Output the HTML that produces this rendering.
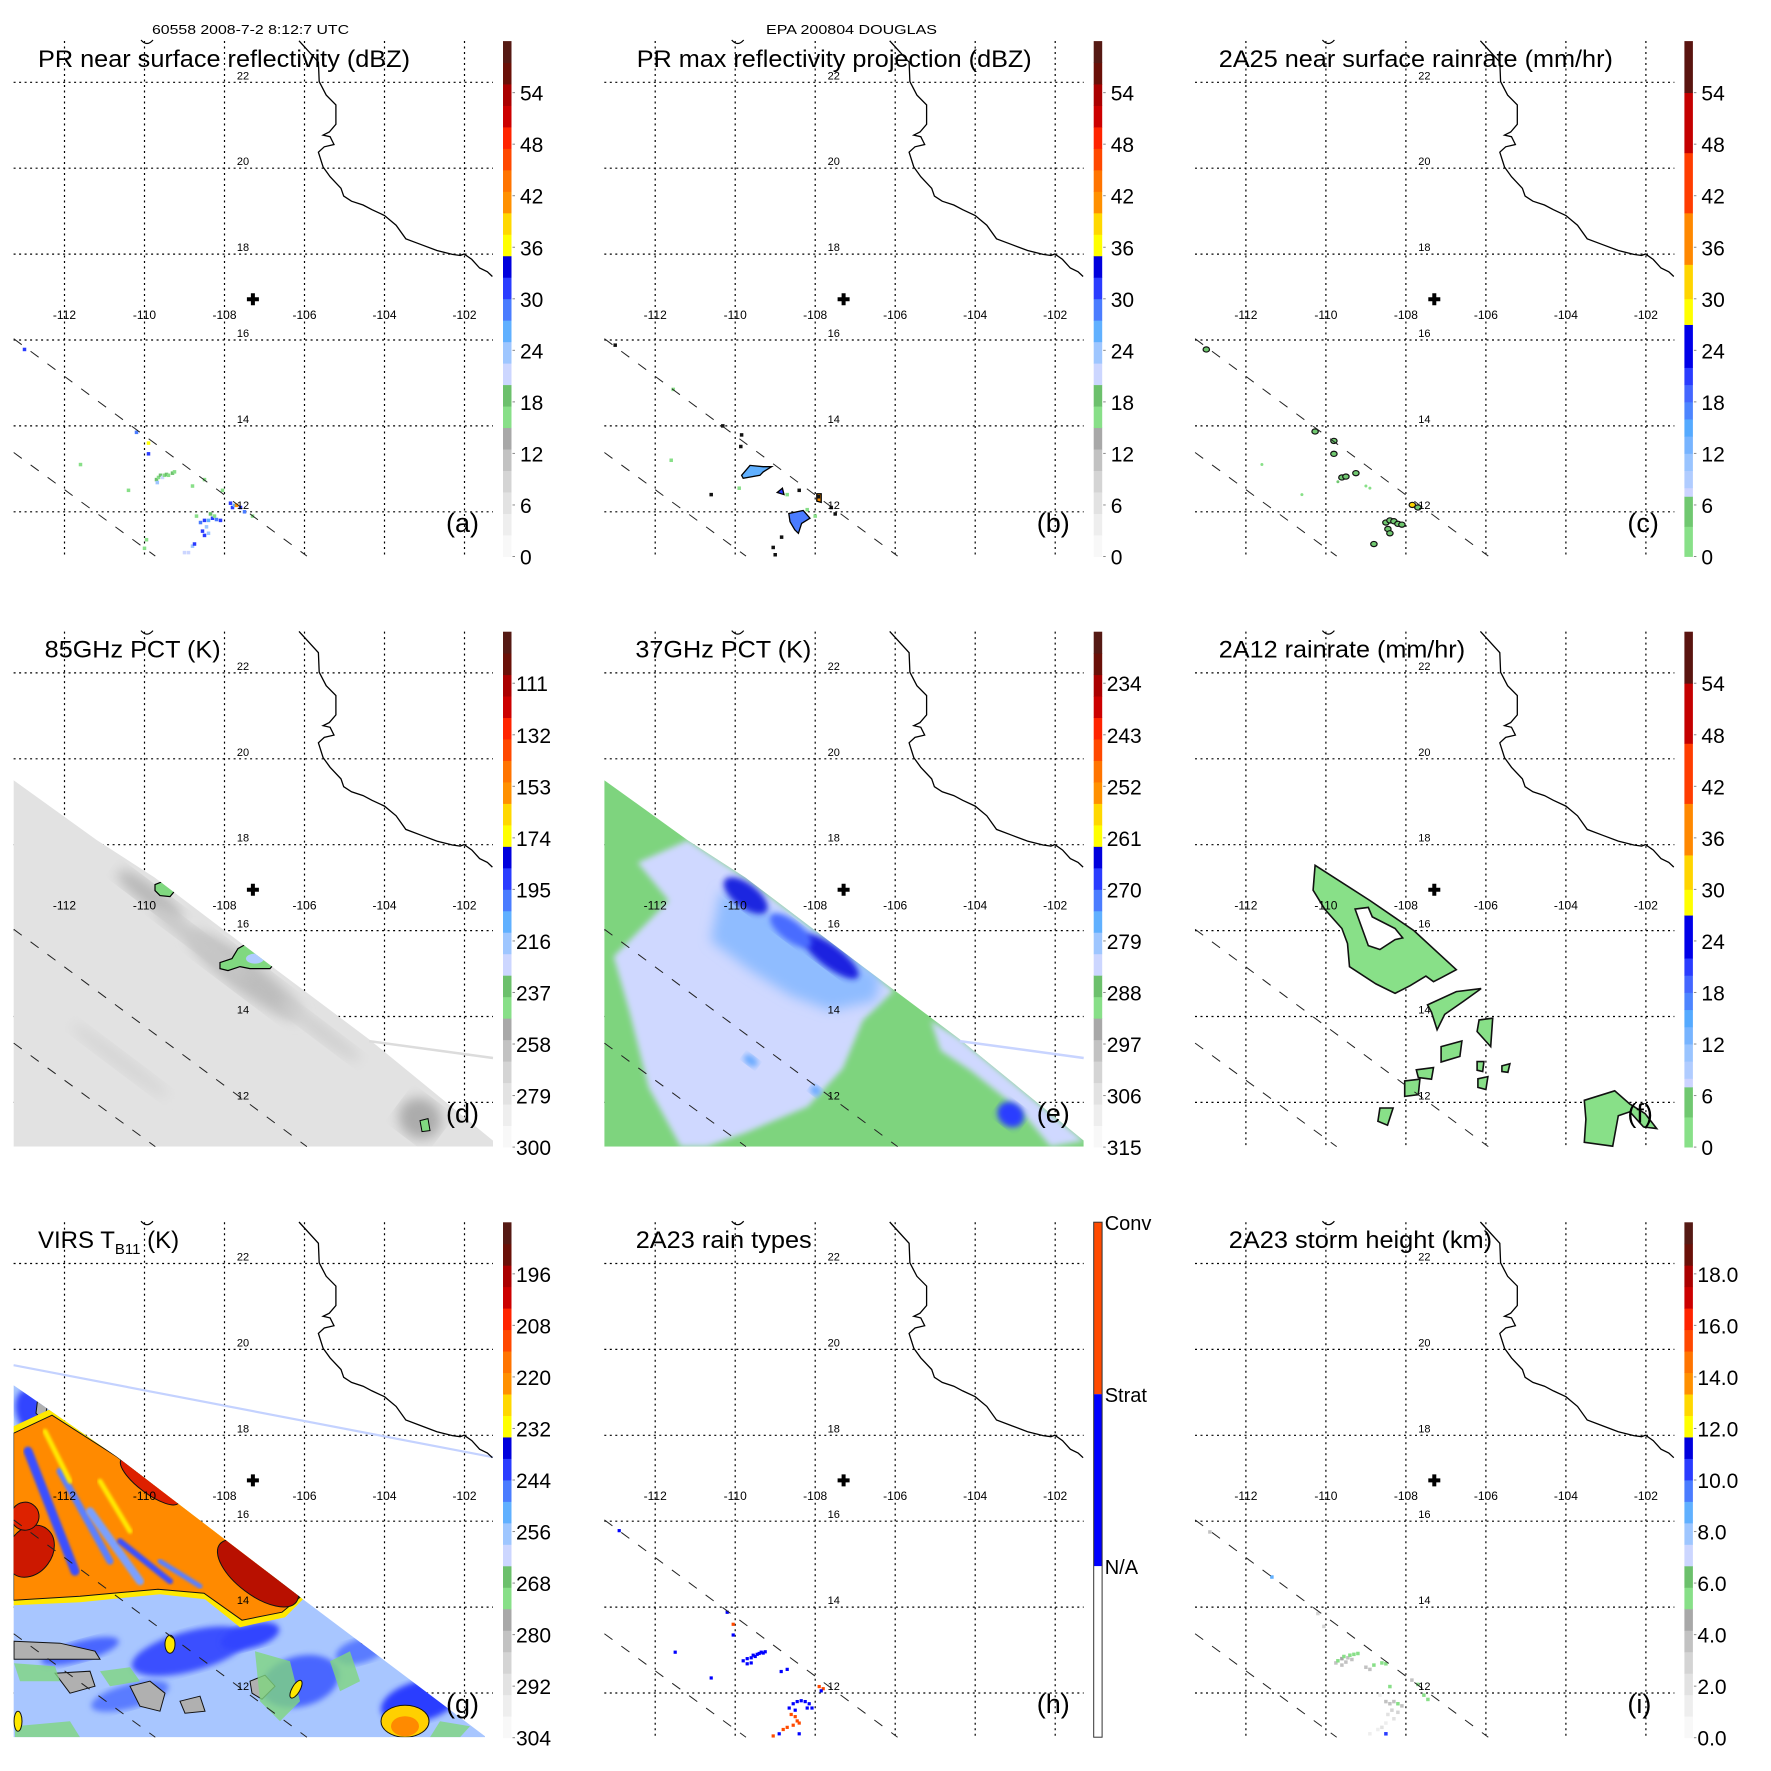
<!DOCTYPE html>
<html><head><meta charset="utf-8">
<style>
html,body{margin:0;padding:0;background:#fff;}
svg{display:block;font-family:"Liberation Sans",Arial,sans-serif;}
</style></head>
<body>
<svg id="fig" xmlns="http://www.w3.org/2000/svg" width="1771" height="1771" viewBox="0 0 1771 1771">
<defs>
<clipPath id="swathA"><polygon points="13.6,189.6 97,249.6 155,287.2 273.8,377.3 369,448.6 493,550 493,556 13.6,556"/></clipPath>
<clipPath id="swathG"><polygon points="13.6,204 116.5,275.3 303,418 485,555 485,556 13.6,556"/></clipPath>
<filter id="blur3"><feGaussianBlur stdDeviation="3"/></filter>
<filter id="blur6"><feGaussianBlur stdDeviation="6"/></filter>
<filter id="blur1"><feGaussianBlur stdDeviation="1.2"/></filter>
</defs>
<text x="152" y="34" font-size="13" textLength="197" lengthAdjust="spacingAndGlyphs">60558 2008-7-2 8:12:7 UTC</text>
<text x="766" y="34" font-size="13" textLength="171" lengthAdjust="spacingAndGlyphs">EPA 200804 DOUGLAS</text>
</svg>
<script>
// ---------- data ----------
const lonTicks = [-112, -110, -108, -106, -104, -102];
const latTicks = [22, 20, 18, 16, 14, 12];
const centerLon = -107.29, centerLat = 16.95;

const labelsDBZ = ["54","48","42","36","30","24","18","12","6","0"];
const labels85 = ["111","132","153","174","195","216","237","258","279","300"];
const labels37 = ["234","243","252","261","270","279","288","297","306","315"];
const labelsRR = ["54","48","42","36","30","24","18","12","6","0"];
const labelsVIRS = ["196","208","220","232","244","256","268","280","292","304"];
const labelsHt = ["18.0","16.0","14.0","12.0","10.0","8.0","6.0","4.0","2.0","0.0"];
const labelValues = [54,48,42,36,30,24,18,12,6,0];
const rainTypeLabels = ["Conv","Strat","N/A"];

const cmapA = [[0,2.5,"#f8f8f8"],[2.5,5,"#eeeeee"],[5,7.5,"#e2e2e2"],[7.5,10,"#d4d4d4"],[10,12.5,"#c2c2c2"],[12.5,15,"#a8a8a8"],
 [15,17.5,"#88df88"],[17.5,20,"#6cc06c"],[20,22.5,"#ccd6ff"],[22.5,25,"#9ec6ff"],[25,27.5,"#60b0ff"],[27.5,30,"#4a7cff"],
 [30,32.5,"#2a3cff"],[32.5,35,"#0000dd"],[35,37.5,"#ffff00"],[37.5,40,"#ffd800"],[40,42.5,"#ff9000"],[42.5,45,"#ff7400"],
 [45,47.5,"#ff4800"],[47.5,50,"#ff2400"],[50,52.5,"#cc0000"],[52.5,55,"#aa0000"],[55,57.5,"#6a1008"],[57.5,60,"#551a14"]];
const cmapB = [[0,3.5,"#88e088"],[3.5,7,"#70c870"],[7,8,"#ccd4ff"],[8,10,"#b0ccff"],[10,12,"#99c4ff"],[12,14,"#77b4ff"],
 [14,16,"#55aaff"],[16,18,"#4d85ff"],[18,20,"#4466ff"],[20,22,"#2a3cff"],[22,27,"#0000e8"],[27,30,"#ffff00"],
 [30,34,"#ffd500"],[34,40,"#ff8800"],[40,47,"#ff3d00"],[47,54,"#c40000"],[54,60,"#5a1410"]];

const rainA_lon = [-113.0,-110.2,-109.9,-109.9,-109.7,-109.65,-109.6,-109.55,-109.5,-109.45,-109.4,-109.3,-109.25,-109.68,-111.6,-110.4,-108.8,-108.5,-108.05,-107.85,-107.8,-107.75,-107.7,-107.6,-107.5,-108.6,-108.5,-108.4,-108.3,-108.2,-108.1,-108.45,-108.55,-108.5,-108.4,-108.25,-108.35,-108.8,-108.75,-109.0,-108.9,-108.7,-110.0,-109.95,-107.3];
const rainA_lat = [15.78,13.85,13.6,13.35,12.75,12.8,12.85,12.8,12.85,12.87,12.85,12.9,12.93,12.68,13.1,12.5,12.6,12.75,12.5,12.2,12.1,12.15,12.15,12.1,12.0,11.75,11.8,11.8,11.85,11.82,11.8,11.65,11.55,11.45,11.5,11.9,11.95,11.2,11.25,11.05,11.05,11.9,11.15,11.35,11.9];
const rainA_val = [30,28,36,30,18,17,18,22,17,18,17,18,17,24,17,17,17,17,17,30,32,26,40,30,28,28,30,26,30,28,31,24,30,32,24,17,18,24,30,22,22,17,17,17,17];

const rainB_lon = [-113.0,-110.31,-109.84,-109.86,-108.84,-109.05,-111.55,-111.6,-109.9,-108.7,-108.4,-107.92,-107.6,-107.5,-108.2,-108.0,-109.0,-110.6];
const rainB_lat = [15.88,14.0,13.79,13.52,11.41,11.17,14.85,13.2,12.55,12.4,12.5,12.35,12.1,11.95,12.05,11.9,11.0,12.4];
const rainB_val = [30,30,30,30,30,30,17,17,17,17,30,40,30,28,17,17,28,30];
const cellsB_lonlat = [
 [[-109.84,12.85],[-109.63,13.08],[-109.30,13.05],[-109.09,13.05],[-109.30,12.93],[-109.38,12.85],[-109.80,12.78]],
 [[-108.66,11.96],[-108.30,12.03],[-108.13,11.85],[-108.34,11.73],[-108.42,11.50],[-108.51,11.58],[-108.63,11.77]],
 [[-108.95,12.45],[-108.82,12.55],[-108.78,12.40]],
 [[-107.96,12.42],[-107.85,12.42],[-107.85,12.22],[-107.96,12.25]]];
const cellsB_val = [26, 28, 30, 42];

const rainC_lon = [-112.99,-110.27,-109.8,-109.8,-109.7,-109.6,-109.5,-109.25,-107.84,-107.7,-108.5,-108.4,-108.3,-108.2,-108.1,-108.45,-108.4,-108.8,-111.6,-110.6,-109.0,-108.9];
const rainC_lat = [15.78,13.87,13.65,13.35,12.7,12.8,12.82,12.9,12.16,12.1,11.75,11.8,11.78,11.72,11.7,11.6,11.5,11.25,13.1,12.4,12.6,12.55];
const rainC_val = [6,6,5,5,4,5,6,5,33,5,6,5,6,5,6,5,6,5,2,2,2,2];

const cellsF_lonlat = [
 [[-110.27,17.52],[-108.9,16.7],[-107.8,16.0],[-106.74,15.09],[-107.12,14.90],[-107.31,14.81],[-107.50,14.94],[-107.89,14.72],[-108.27,14.54],[-108.75,14.76],[-109.41,15.16],[-109.46,15.70],[-109.60,16.05],[-110.03,16.50],[-110.32,16.94]],
 [[-107.46,14.27],[-106.74,14.58],[-106.12,14.65],[-106.55,14.36],[-107.03,14.05],[-107.22,13.69],[-107.36,14.10]],
 [[-106.17,13.92],[-105.83,13.96],[-105.88,13.30],[-106.22,13.65]],
 [[-107.12,13.30],[-106.60,13.43],[-106.65,13.07],[-107.12,12.94]],
 [[-107.74,12.76],[-107.31,12.81],[-107.36,12.54],[-107.69,12.58]],
 [[-108.03,12.50],[-107.65,12.54],[-107.69,12.18],[-108.03,12.14]],
 [[-108.65,11.87],[-108.32,11.87],[-108.46,11.47],[-108.70,11.56]],
 [[-106.22,12.95],[-106.05,12.95],[-106.08,12.72],[-106.22,12.75]],
 [[-106.2,12.55],[-105.95,12.6],[-106.0,12.3],[-106.2,12.35]],
 [[-105.6,12.85],[-105.4,12.9],[-105.45,12.7],[-105.6,12.72]],
 [[-103.54,12.05],[-102.78,12.27],[-102.40,11.96],[-102.02,11.74],[-101.73,11.39],[-102.06,11.43],[-102.40,11.78],[-102.69,11.69],[-102.83,10.98],[-103.54,11.07],[-103.50,11.61]]];
const holesF_lonlat = [[[-109.27,16.50],[-108.94,16.54],[-108.84,16.32],[-108.27,16.05],[-108.08,15.83],[-108.27,15.79],[-108.65,15.56],[-108.94,15.65],[-109.13,16.14]]];
const cellsF_val = [3,3,3,3,3,3,3,3,3,3,3];

const rainH_lon = [-112.9,-109.8,-109.7,-109.6,-109.55,-109.5,-109.45,-109.4,-109.35,-109.3,-109.25,-109.7,-109.6,-110.2,-110.05,-108.55,-108.45,-108.35,-108.25,-108.15,-108.08,-108.5,-108.2,-107.9,-107.8,-107.85,-110.05,-108.6,-108.5,-108.45,-108.4,-108.55,-108.7,-108.8,-108.9,-109.05,-108.4,-108.65,-111.5,-110.6,-108.85,-108.7];
const rainH_lat = [15.78,12.75,12.8,12.82,12.88,12.85,12.9,12.92,12.95,12.93,12.96,12.68,12.7,13.88,13.6,11.75,11.8,11.82,11.8,11.75,11.65,11.6,11.65,12.15,12.1,12.05,13.35,11.5,11.45,11.35,11.3,11.25,11.2,11.15,11.05,11.0,11.05,11.65,12.95,12.35,12.5,12.55];
const rainH_val = [1,1,1,1,1,1,1,1,1,1,1,1,1,1,2,1,1,1,1,1,1,1,1,2,2,1,1,2,2,2,2,2,2,2,1,2,1,1,1,1,1,1];

const rainI_lon = [-112.9,-109.75,-109.7,-109.6,-109.55,-109.45,-109.4,-109.3,-109.2,-109.6,-109.5,-109.35,-109.0,-108.9,-108.8,-108.6,-108.5,-107.85,-107.7,-107.55,-107.45,-108.4,-108.5,-108.4,-108.3,-108.2,-108.1,-108.35,-108.2,-108.45,-108.3,-108.5,-108.6,-108.7,-108.9,-108.5,-110.2,-110.05,-108.65,-111.35];
const rainI_lat = [15.75,12.7,12.75,12.8,12.85,12.82,12.88,12.9,12.92,12.65,12.72,12.78,12.6,12.55,12.65,12.7,12.68,12.3,12.2,11.95,11.85,12.15,11.8,11.75,11.8,11.75,11.7,11.6,11.55,11.5,11.4,11.3,11.2,11.15,11.05,11.05,13.85,13.55,11.95,14.7];
const rainI_val = [4,4,5.5,4.5,5.5,4,5.5,5.5,5.5,3.5,4,3.5,4,3.5,5.5,5.5,5.5,4,5.5,5.5,5.5,5.5,3.5,4,3.5,5.5,3.5,3,2.5,2,2,1.5,2,1.5,1,10,3,3,1,9];

// ---------- geometry ----------
const colX = [0, 590.7, 1181.4];
const rowY = [0, 590.6, 1181.2];
const FL = 13.6, FR = 493, FT = 41, FB = 556;
function X(lon){ return 64.5 + (lon + 112) * 40; }
function Y(lat){ return 82.3 + (22 - lat) * 42.95; }
function CBY(v){ return 556.5 - v * 8.59; }
const coastPx = "299,40.8 318.4,62.1 319.2,81.6 326.2,95.1 335.9,104.9 335.9,124.3 329.3,132 323.1,135.1 330.1,136.7 334,144.5 324.3,146.8 318.4,152.2 323.1,167 330.1,176.7 341,188.3 343.7,196.1 351.5,201.2 363.1,205 372,209.7 384.5,215.5 396.1,225.2 405.8,238.8 421.4,244.7 436.9,250.5 452.4,254.4 460.2,255.5 464.1,254 471.8,259.4 479.6,268 487.4,271.8 492.4,276.5";
const swathLines = [[[-113.27,16.03],[-105.94,10.97]],[[-113.27,13.38],[-109.73,10.97]]];

const NS = "http://www.w3.org/2000/svg";
const svg = document.getElementById("fig");
function mk(tag, attrs, parent){
  const el = document.createElementNS(NS, tag);
  for (const k in attrs) el.setAttribute(k, attrs[k]);
  parent.appendChild(el);
  return el;
}
function colorOf(cmap, v){
  for (const c of cmap) if (v >= c[0] && v < c[1]) return c[2];
  return cmap[cmap.length-1][2];
}
function polyPts(arr){ return arr.map(p => X(p[0]).toFixed(1)+","+Y(p[1]).toFixed(1)).join(" "); }

function drawBackground(g){
  for (const lon of lonTicks){
    const l = mk("line",{x1:X(lon),x2:X(lon),y1:FT,y2:FB,stroke:"#000","stroke-width":1.2,"stroke-dasharray":"2,3.5"},g);
    
    
  }
  for (const lat of latTicks){
    const l = mk("line",{x1:FL,x2:FR,y1:Y(lat),y2:Y(lat),stroke:"#000","stroke-width":1.2,"stroke-dasharray":"2,3.5"},g);
    
    
  }
}
function drawOverlay(g, letter){
  for (const s of swathLines){
    const l = mk("line",{x1:X(s[0][0]),y1:Y(s[0][1]),x2:X(s[1][0]),y2:Y(s[1][1]),stroke:"#222","stroke-width":1,"stroke-dasharray":"10,11"},g);
    
    
  }
  const c = mk("polyline",{points:coastPx,fill:"none",stroke:"#000","stroke-width":1.3},g);
  
  
  for (const lat of latTicks){
    const t = mk("text",{x:243,y:Y(lat)-3,"font-size":11,"text-anchor":"middle"},g);
    
    
    t.textContent = String(lat);
  }
  for (const lon of lonTicks){
    const t = mk("text",{x:X(lon),y:319,"font-size":12,"text-anchor":"middle"},g);
    
    
    t.textContent = String(lon);
  }
  const cx = X(centerLon), cy = Y(centerLat);
  const cr = mk("path",{d:`M${cx-6},${cy} H${cx+6} M${cx},${cy-6} V${cy+6}`,stroke:"#000","stroke-width":4},g);
  
  
  const br = mk("path",{d:"M141,40 Q147,47 153,40",fill:"none",stroke:"#000","stroke-width":1.2},g);
  
  
  const lt = mk("text",{x:446,y:532,"font-size":27},g);
  
  
  lt.textContent = "("+letter+")";
}
function drawTitle(g, txt, x0, x1){
  const t = mk("text",{x:x0,y:67,"font-size":24,textLength:x1-x0,lengthAdjust:"spacingAndGlyphs"},g);
  
  
  t.textContent = txt;
  return t;
}
function drawColorbar(g, cmap, labels){
  for (const c of cmap){
    const r = mk("rect",{x:503,y:CBY(c[1]),width:8.5,height:CBY(c[0])-CBY(c[1])+0.4,fill:c[2]},g);
    
    
  }
  labels.forEach((lab,i)=>{
    const y = CBY(labelValues[i]);
    const tk = mk("line",{x1:512.5,x2:515,y1:y,y2:y,stroke:"#888","stroke-width":1},g);
    
    
    const t = mk("text",{x:lab.length>=3?516:520,y:y+8,"font-size":21},g);
    
    
    t.textContent = lab;
  });
}
function drawPoints(g, lons, lats, vals, colorFn, size){
  for (let i=0;i<lons.length;i++){
    const r = mk("rect",{x:X(lons[i])-size/2,y:Y(lats[i])-size/2,width:size,height:size,fill:colorFn(vals[i])},g);
    
    
  }
}
function panel(col,row,name){
  const g = mk("g",{transform:`translate(${colX[col]},${rowY[row]})`},svg);
  
  
  return g;
}

// (a)
{
  const g = panel(0,0,'panel-pr-near-surface-reflectivity');
  drawBackground(g);
  drawPoints(g, rainA_lon, rainA_lat, rainA_val, v=>colorOf(cmapA,v), 3.5);
  drawOverlay(g,"a");
  drawTitle(g,"PR near surface reflectivity (dBZ)",38,410);
  drawColorbar(g,cmapA,labelsDBZ);
}
// (b)
{
  const g = panel(1,0,'panel-pr-max-reflectivity');
  drawBackground(g);
  cellsB_lonlat.forEach((c,i)=>{
    const p = mk("polygon",{points:polyPts(c),fill:colorOf(cmapA,cellsB_val[i]),stroke:"#000","stroke-width":1.3},g);
    
    
  });
  drawPoints(g, rainB_lon, rainB_lat, rainB_val, v=> v>=25 ? "#111" : colorOf(cmapA,v), 3.5);
  drawOverlay(g,"b");
  drawTitle(g,"PR max reflectivity projection (dBZ)",46,441);
  drawColorbar(g,cmapA,labelsDBZ);
}
// (c)
{
  const g = panel(2,0,'panel-2a25-rainrate');
  drawBackground(g);
  for (let i=0;i<rainC_lon.length;i++){
    const big = rainC_val[i] >= 5;
    const e = mk("ellipse",{cx:X(rainC_lon[i]),cy:Y(rainC_lat[i]),rx:big?3.2:1.5,ry:big?2.6:1.5,fill:colorOf(cmapB,rainC_val[i]),stroke:big?"#111":"none","stroke-width":1.2},g);
    
    
  }
  drawOverlay(g,"c");
  drawTitle(g,"2A25 near surface rainrate (mm/hr)",37.4,431.5);
  drawColorbar(g,cmapB,labelsRR);
}
// (d)
{
  const g = panel(0,1,'panel-85ghz-pct');
  drawBackground(g);
  const f = mk("g",{"clip-path":"url(#swathA)"},g);
  
  
  mk("rect",{x:13.6,y:180,width:480,height:380,fill:"#e2e2e2"},f);
  const shade = [[150,305,40,10,"#b8b8b8"],[245,385,70,16,"#bdbdbd"],[200,352,60,9,"#c8c8c8"],[420,528,22,20,"#acacac"],[320,440,50,8,"#d0d0d0"],[120,470,60,8,"#d6d6d6"]];
  for (const s of shade){
    const e = mk("ellipse",{cx:s[0],cy:s[1],rx:s[2],ry:s[3],fill:s[4],transform:`rotate(37 ${s[0]} ${s[1]})`,filter:"url(#blur6)"},f);
    
    
  }
  const b1 = mk("polygon",{points:"155,294 165,290 175,300 170,306 160,305 155,300",fill:"#80d880",stroke:"#000","stroke-width":1.2},f);
  
  
  const b2 = mk("polygon",{points:"220,372 232,368 238,358 245,354 262,360 275,372 270,378 250,378 240,376 228,380 220,378",fill:"#80d880",stroke:"#000","stroke-width":1.2},f);
  
  
  mk("ellipse",{cx:255,cy:368,rx:9,ry:5,fill:"#b0ccff"},f);
  const b3 = mk("polygon",{points:"420,530 428,528 430,540 422,541",fill:"#80d880",stroke:"#000","stroke-width":1},f);
  
  
  const gl = mk("line",{x1:369,y1:450.5,x2:493,y2:467.4,stroke:"#dcdcdc","stroke-width":2.5},g);
  
  
  drawOverlay(g,"d");
  drawTitle(g,"85GHz PCT (K)",44.7,220.6);
  drawColorbar(g,cmapA,labels85);
}
// (e)
{
  const g = panel(1,1,'panel-37ghz-pct');
  drawBackground(g);
  const f = mk("g",{"clip-path":"url(#swathA)"},g);
  
  
  mk("rect",{x:13.6,y:180,width:480,height:380,fill:"#7ed47e"},f);
  const lav = mk("polygon",{points:"97,249.6 155,287.2 273.8,377.3 303,400 272,430 252,478 217,516 155,542 116,556 90,556 58,497 39,422 23,366 78,310 47,272",fill:"#cfd8ff",filter:"url(#blur3)"},f);
  
  
  mk("polygon",{points:"340,430 369,448 420,490 493,550 460,556 430,520 380,480 350,460",fill:"#cfd8ff",filter:"url(#blur3)"},f);
  mk("polygon",{points:"130,300 200,330 290,385 285,410 240,420 200,405 160,380 120,350",fill:"#8fbcff",filter:"url(#blur6)"},f);
  const blues = [[155,305,26,12,"#1e28e0"],[240,366,34,11,"#1a22e0"],[200,340,25,10,"#4a6cff"],[420,524,14,12,"#2a3cff"],[160,470,8,5,"#6aaaff"],[225,500,6,5,"#6aaaff"]];
  for (const s of blues){
    const e = mk("ellipse",{cx:s[0],cy:s[1],rx:s[2],ry:s[3],fill:s[4],transform:`rotate(37 ${s[0]} ${s[1]})`,filter:"url(#blur3)"},f);
    
    
  }
  const gl = mk("line",{x1:369,y1:450.5,x2:493,y2:467.4,stroke:"#c8d4ff","stroke-width":2.5},g);
  
  
  drawOverlay(g,"e");
  drawTitle(g,"37GHz PCT (K)",44.7,220.6);
  drawColorbar(g,cmapA,labels37);
}
// (f)
{
  const g = panel(2,1,'panel-2a12-rainrate');
  drawBackground(g);
  cellsF_lonlat.forEach((c,i)=>{
    const p = mk("polygon",{points:polyPts(c),fill:colorOf(cmapB,cellsF_val[i]),stroke:"#111","stroke-width":1.6},g);
    
    
  });
  for (const h of holesF_lonlat){
    const p = mk("polygon",{points:polyPts(h),fill:"#fff",stroke:"#111","stroke-width":1.6},g);
    
    
  }
  drawOverlay(g,"f");
  drawTitle(g,"2A12 rainrate (mm/hr)",37.4,283.7);
  drawColorbar(g,cmapB,labelsRR);
}
// (g)
{
  const g = panel(0,2,'panel-virs-tb11');
  drawBackground(g);
  const f = mk("g",{"clip-path":"url(#swathG)"},g);
  
  
  mk("rect",{x:13.6,y:190,width:480,height:370,fill:"#a8c6ff"},f);
  const cold = [[190,470,60,20,"#3a50ff"],[300,500,40,25,"#4a66ff"],[420,520,40,20,"#2a3cff"],[80,470,40,10,"#4a66ff"],[250,455,30,12,"#3344ff"],[130,515,40,12,"#5a7cff"],[30,230,14,22,"#3344ff"],[360,470,25,12,"#5a7cff"]];
  for (const s of cold){
    const e = mk("ellipse",{cx:s[0],cy:s[1],rx:s[2],ry:s[3],fill:s[4],transform:`rotate(-15 ${s[0]} ${s[1]})`,filter:"url(#blur3)"},f);
    
    
  }
  const grays = ["14,460 60,462 95,470 100,478 60,478 14,478","130,505 150,500 165,512 160,530 140,525","250,500 265,494 275,505 262,518 252,512","55,492 90,490 95,505 70,512","180,520 200,515 205,530 185,532","355,450 368,448 362,462","38,215 48,222 44,240 36,232"];
  for (const p of grays){
    const e = mk("polygon",{points:p,fill:"#b0b0b0",stroke:"#111","stroke-width":1},f);
    
    
  }
  const greens = ["14,482 55,485 60,500 20,500","100,490 130,486 140,500 110,505","255,470 290,480 300,520 280,540 260,520","330,480 350,470 360,500 340,510","440,540 470,545 460,556 430,556","15,545 70,540 80,556 15,556"];
  for (const p of greens){
    const e = mk("polygon",{points:p,fill:"#7fd67f",opacity:0.8},f);
    
    
  }
  const y1 = mk("polygon",{points:"13.6,245 50,228 116.5,275.3 210,345 303,418 285,436 240,446 205,418 160,413 80,421 13.6,424",fill:"#ffe800"},f);
  
  
  const o1 = mk("polygon",{points:"13.6,252 52,234 116.5,275.3 210,345 300,416 282,431 242,439 204,412 158,408 80,415 13.6,419",fill:"#ff8a00",stroke:"#111","stroke-width":1},f);
  
  
  const streaks = [[28,270,75,390,"#3a50ff",9],[60,290,110,380,"#5a80ff",7],[90,330,140,400,"#7aa0ff",8],[120,360,170,400,"#3a50ff",6],[160,380,200,405,"#5a80ff",5],[45,250,70,300,"#ffe800",5],[100,300,130,350,"#ffe800",5]];
  for (const s of streaks){
    const l = mk("line",{x1:s[0],y1:s[1],x2:s[2],y2:s[3],stroke:s[4],"stroke-width":s[5],"stroke-linecap":"round",filter:"url(#blur1)"},f);
    
    
  }
  const reds = [[258,392,48,22,"#b81000"],[150,300,36,12,"#dd2000"],[30,370,22,28,"#cc1800"],[25,335,14,14,"#dd2200"]];
  for (const s of reds){
    const e = mk("ellipse",{cx:s[0],cy:s[1],rx:s[2],ry:s[3],fill:s[4],stroke:"#111","stroke-width":1,transform:`rotate(37 ${s[0]} ${s[1]})`},f);
    
    
  }
  const br = mk("ellipse",{cx:405,cy:540,rx:24,ry:16,fill:"#ffd000",stroke:"#111","stroke-width":1},f);
  
  
  mk("ellipse",{cx:405,cy:545,rx:14,ry:10,fill:"#ff8a00"},f);
  mk("ellipse",{cx:170,cy:463,rx:5,ry:9,fill:"#ffe800",stroke:"#111","stroke-width":1},f);
  mk("ellipse",{cx:296,cy:508,rx:4,ry:10,fill:"#ffe800",stroke:"#111","stroke-width":1,transform:"rotate(30 296 508)"},f);
  mk("ellipse",{cx:18,cy:540,rx:4,ry:10,fill:"#ffe800",stroke:"#111","stroke-width":1},f);
  const vl = mk("line",{x1:13.6,y1:184,x2:493,y2:276,stroke:"#c4d2ff","stroke-width":2.2},g);
  
  
  drawOverlay(g,"g");
  const t = mk("text",{x:38,y:67,"font-size":24},g);
  
  
  t.innerHTML = 'VIRS T<tspan font-size="15" dy="6">B11</tspan><tspan dy="-6"> (K)</tspan>';
  drawColorbar(g,cmapA,labelsVIRS);
}
// (h)
{
  const g = panel(1,2,'panel-2a23-rain-types');
  drawBackground(g);
  drawPoints(g, rainH_lon, rainH_lat, rainH_val, v=> v===2 ? "#ff4a00" : "#0000ff", 3.2);
  drawOverlay(g,"h");
  drawTitle(g,"2A23 rain types",45,221);
  const segs = [[41,213,"#ff4a00"],[213,385,"#0000ff"],[385,556,"#ffffff"]];
  for (const s of segs){
    const r = mk("rect",{x:503,y:s[0],width:8.4,height:s[1]-s[0],fill:s[2]},g);
    
    
  }
  const ob = mk("rect",{x:503,y:41,width:8.4,height:515,fill:"none",stroke:"#333","stroke-width":1},g);
  
  
  [41,213,385].forEach((y,i)=>{
    const t = mk("text",{x:514,y:y+8,"font-size":20},g);
    
    
    t.textContent = rainTypeLabels[i];
  });
}
// (i)
{
  const g = panel(2,2,'panel-2a23-storm-height');
  drawBackground(g);
  drawPoints(g, rainI_lon, rainI_lat, rainI_val.map(v=>v*3), v=>colorOf(cmapA,v), 3.5);
  drawOverlay(g,"i");
  drawTitle(g,"2A23 storm height (km)",47.4,310.7);
  drawColorbar(g,cmapA,labelsHt);
}
</script>
</body></html>
